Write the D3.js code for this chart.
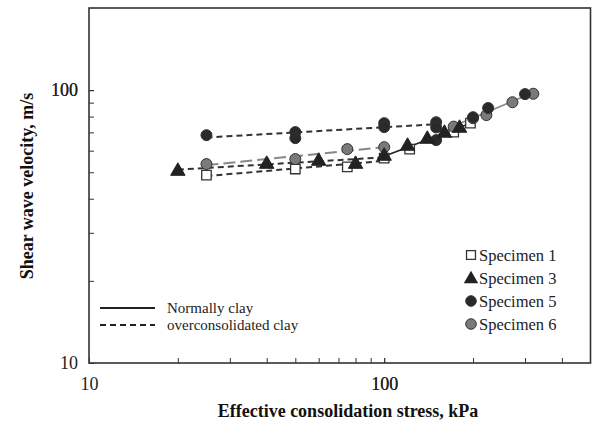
<!DOCTYPE html>
<html><head><meta charset="utf-8">
<script src="https://cdn.jsdelivr.net/npm/d3@7"></script>
<style>body{margin:0;background:#fff;} svg{display:block;} text{font-family:"Liberation Serif","Times New Roman",serif;}</style>
</head><body>
<svg id="c" width="592" height="429"></svg>
<script>
// ---- data ----
const xTicks = [20,30,40,50,60,70,80,90,100,200,300,400];
const xLabels = [10,100];
const yTicks = [20,30,40,50,60,70,80,90,100];
const yLabels = [10,100];

const s1OCx = [25,50,75,100];       const s1OCy = [48.8,51.4,52.3,56.3];
const s1NCx = [100,122,172,196];    const s1NCy = [56.3,60.8,70.2,75.7];
const s3OCx = [20,40,60,80,100];    const s3OCy = [50.9,54.0,55.4,54.0,57.8];
const s3NCx = [100,120,140,160,180];const s3NCy = [57.8,62.9,66.7,70.2,73.2];
const s5OCx = [25,50,50,100,100,150,150]; const s5OCy = [68.4,70.2,66.7,75.7,73.2,76.3,73.0];
const s5NCx = [150,200,225,300];    const s5NCy = [65.6,79.6,86.0,96.7];
const s6OCx = [25,50,75,100];       const s6OCy = [53.6,55.9,60.8,61.8];
const s6NCx = [172,200,222,272,320];const s6NCy = [73.5,78.9,81.0,90.3,97.0];

const legendNames = ["Specimen 1","Specimen 3","Specimen 5","Specimen 6"];
const lineLegend = ["Normally clay","overconsolidated clay"];

// ---- chart ----
const svg = d3.select("#c");
const L=89,R=590.5,T=8,B=363;
const x = d3.scaleLog().domain([10,500]).range([L,R]);
const y = d3.scaleLog().domain([10,200]).range([B,T]);
const serif = "Liberation Serif";

// axes
const xa = svg.append("g").attr("transform",`translate(0,${B})`)
  .call(d3.axisBottom(x).tickValues(xTicks.concat(xLabels)).tickSize(-5).tickPadding(14)
  .tickFormat(d=>xLabels.includes(d)?String(d):""));
const ya = svg.append("g").attr("transform",`translate(${L},0)`)
  .call(d3.axisLeft(y).tickValues(yTicks.concat(yLabels)).tickSize(-5).tickPadding(11)
  .tickFormat(d=>yLabels.includes(d)?String(d):""));
[xa,ya].forEach(g=>{
  g.attr("font-family",serif);
  g.select(".domain").remove();
  g.selectAll("line").attr("stroke","#333").attr("stroke-width",1);
  g.selectAll("text").attr("font-family",serif).attr("font-size",18).attr("fill","#222");
});
svg.append("rect").attr("x",L).attr("y",T).attr("width",R-L).attr("height",B-T)
  .attr("fill","none").attr("stroke","#333").attr("stroke-width",1.6);

// fit lines (log-log least squares)
function fit(xs,ys){
  const lx=xs.map(Math.log10), ly=ys.map(Math.log10);
  const mx=d3.mean(lx), my=d3.mean(ly);
  const b=d3.sum(lx,(v,i)=>(v-mx)*(ly[i]-my))/d3.sum(lx,v=>(v-mx)*(v-mx));
  const f=v=>Math.pow(10,my+b*(Math.log10(v)-mx));
  const x0=d3.min(xs), x1=d3.max(xs);
  return [[x0,f(x0)],[x1,f(x1)]];
}
const line = d3.line().x(d=>x(d[0])).y(d=>y(d[1]));
function drawLine(xs,ys,color,dash,w){
  svg.append("path").attr("d",line(fit(xs,ys))).attr("fill","none")
    .attr("stroke",color).attr("stroke-width",w).attr("stroke-dasharray",dash);
}
drawLine(s6OCx,s6OCy,"#888","12,5",2);
drawLine(s5OCx,s5OCy,"#333","6,4",2);
drawLine(s1OCx,s1OCy,"#333","6,4",2);
drawLine(s3OCx,s3OCy,"#333","6,4",2);
drawLine(s6NCx.concat(s5NCx.slice(1)),s6NCy.concat(s5NCy.slice(1)),"#888",null,1.6);
drawLine(s1NCx.concat(s3NCx),s1NCy.concat(s3NCy),"#222",null,1.6);

// markers
const sq = d3.symbol().type(d3.symbolSquare).size(90);
const tri = d3.symbol().type(d3.symbolTriangle).size(90);
function pts(xs,ys,kind){
  const g=svg.append("g");
  xs.forEach((v,i)=>{
    const cx=x(v), cy=y(ys[i]);
    if(kind==="sq") g.append("path").attr("d",sq()).attr("transform",`translate(${cx},${cy})`)
        .attr("fill","#fff").attr("stroke","#333").attr("stroke-width",1.3);
    else if(kind==="tri") g.append("path").attr("d",tri()).attr("transform",`translate(${cx},${cy+1})`)
        .attr("fill","#222").attr("stroke","#222").attr("stroke-width",1);
    else g.append("circle").attr("cx",cx).attr("cy",cy).attr("r",5.5)
        .attr("fill",kind==="dark"?"#2a2a2a":"#7a7a7a").attr("stroke","#333").attr("stroke-width",1);
  });
}
pts(s1OCx,s1OCy,"sq"); pts(s1NCx.slice(1),s1NCy.slice(1),"sq");
pts(s6OCx,s6OCy,"grey"); pts(s6NCx,s6NCy,"grey");
pts(s5OCx,s5OCy,"dark"); pts(s5NCx,s5NCy,"dark");
pts(s3OCx,s3OCy,"tri"); pts(s3NCx.slice(1),s3NCy.slice(1),"tri");

// legend (markers)
const kinds=["sq","tri","dark","grey"];
legendNames.forEach((n,i)=>{
  const ly=255+i*23, lx=471;
  if(kinds[i]==="sq") svg.append("path").attr("d",d3.symbol().type(d3.symbolSquare).size(80)())
    .attr("transform",`translate(${lx},${ly})`).attr("fill","#fff").attr("stroke","#333").attr("stroke-width",1.3);
  else if(kinds[i]==="tri") svg.append("path").attr("d",d3.symbol().type(d3.symbolTriangle).size(90)())
    .attr("transform",`translate(${lx},${ly+1})`).attr("fill","#222");
  else svg.append("circle").attr("cx",lx).attr("cy",ly).attr("r",5.3)
    .attr("fill",kinds[i]==="dark"?"#2a2a2a":"#7a7a7a").attr("stroke","#333");
  svg.append("text").attr("x",479).attr("y",ly+5.5).text(n)
    .attr("font-family",serif).attr("font-size",16.5).attr("fill","#222");
});
// legend (lines)
lineLegend.forEach((n,i)=>{
  const ly=308+i*17;
  svg.append("line").attr("x1",100).attr("x2",155).attr("y1",ly).attr("y2",ly)
    .attr("stroke","#222").attr("stroke-width",2).attr("stroke-dasharray",i?"6,4":null);
  svg.append("text").attr("x",167).attr("y",ly+4.5).text(n)
    .attr("font-family",serif).attr("font-size",15).attr("fill","#222");
});

// titles
svg.append("text").attr("x",348).attr("y",417).attr("text-anchor","middle")
  .attr("font-family",serif).attr("font-weight","bold").attr("font-size",18).attr("fill","#111")
  .text("Effective consolidation stress, kPa");
svg.append("text").attr("transform","translate(33,186) rotate(-90)").attr("text-anchor","middle")
  .attr("font-family",serif).attr("font-weight","bold").attr("font-size",18).attr("fill","#111")
  .text("Shear wave velocity, m/s");
</script>
</body></html>
